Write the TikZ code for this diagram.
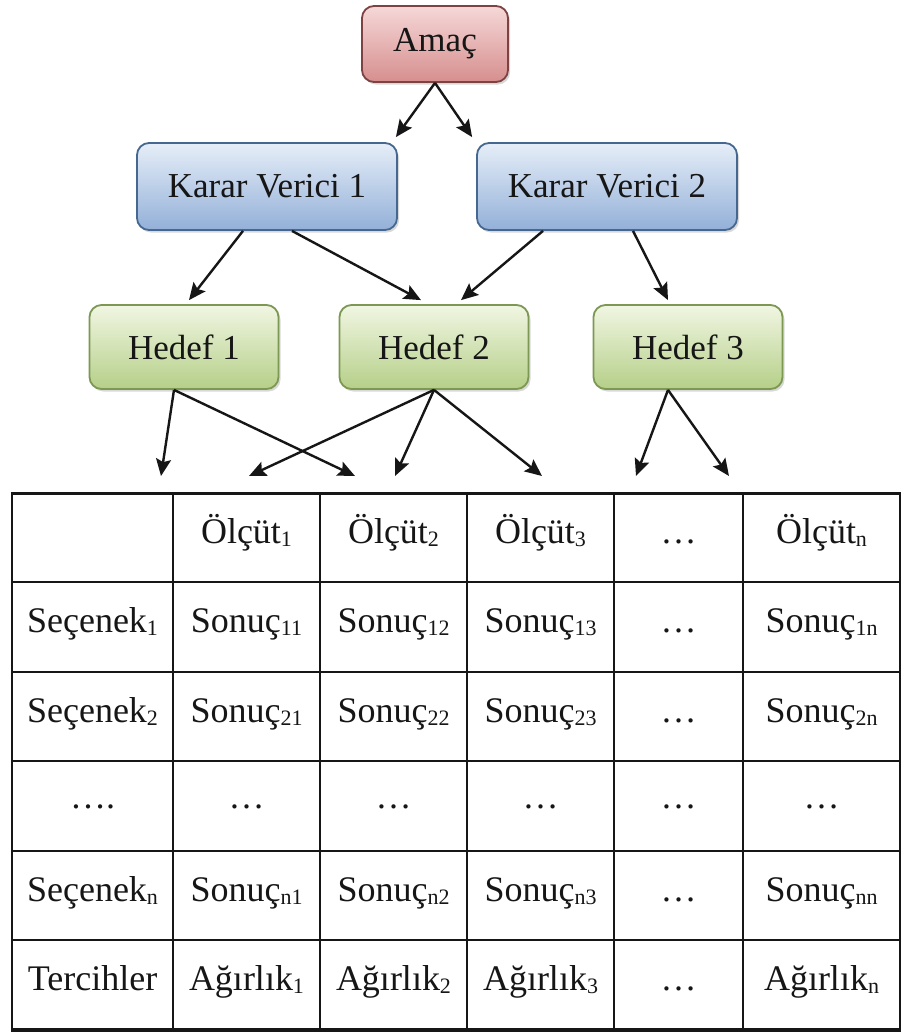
\documentclass[tikz,border=0pt]{standalone}
\usepackage{fontspec}
\setmainfont{Liberation Serif}
\usetikzlibrary{arrows.meta,shadows}
\definecolor{amactop}{HTML}{F6D8D8}
\definecolor{amacbot}{HTML}{D68E8E}
\definecolor{amacedge}{HTML}{7E4242}
\definecolor{kvtop}{HTML}{E6EEF8}
\definecolor{kvbot}{HTML}{93B0D8}
\definecolor{kvedge}{HTML}{46678F}
\definecolor{hdtop}{HTML}{F1F6E3}
\definecolor{hdbot}{HTML}{B5CF88}
\definecolor{hdedge}{HTML}{7C9852}
\definecolor{inkc}{HTML}{161616}
\newcommand{\tabrow}[8]{%
  \node[cell] (r#1c1) at (92.5,#2) {#3};
  \node[cell] (r#1c2) at (246.5,#2) {#4};
  \node[cell] (r#1c3) at (393.5,#2) {#5};
  \node[cell] (r#1c4) at (540.5,#2) {#6};
  \node[cell] (r#1c5) at (678.5,#2) {#7};
  \node[cell] (r#1c6) at (821.5,#2) {#8};
}
\newcommand{\sbs}[1]{\raisebox{-3pt}{\fontsize{22}{22}\selectfont #1}}
\begin{document}
\begin{tikzpicture}[x=1pt,y=-1pt,
  box/.style={rounded corners=12pt, line width=1.8pt, inner sep=0pt,
    text=inkc, font=\fontsize{35}{40}\selectfont,
    drop shadow={shadow xshift=2pt, shadow yshift=-2.5pt, opacity=0.3}},
  amacbox/.style={box, draw=amacedge, top color=amactop, bottom color=amacbot,
    minimum width=146pt, minimum height=76pt},
  kvbox/.style={box, draw=kvedge, top color=kvtop, bottom color=kvbot,
    minimum width=260pt, minimum height=87pt},
  hdbox/.style={box, draw=hdedge, top color=hdtop, bottom color=hdbot,
    minimum width=189pt, minimum height=84pt},
  arr/.style={line width=2.4pt, draw=inkc, -{Stealth[length=17pt,width=15pt,inset=3pt]}},
  grid/.style={line width=2.4pt, draw=inkc},
  cell/.style={anchor=base, inner sep=0pt, text=inkc, font=\fontsize{36}{40}\selectfont}]
\useasboundingbox (0,0) rectangle (903,1034);
\fill[white] (0,0) rectangle (903,1034);

% boxes
\node[amacbox] (amac) at (435,44) {Amaç};
\node[kvbox] (kv1) at (267,186.5) {Karar Verici 1};
\node[kvbox] (kv2) at (607,186.5) {Karar Verici 2};
\node[hdbox] (h1) at (184,347) {Hedef 1};
\node[hdbox] (h2) at (434,347) {Hedef 2};
\node[hdbox] (h3) at (688,347) {Hedef 3};

% arrows between boxes
\draw[arr] (amac.south) -- ([xshift=-2pt,yshift=5pt]kv1.north east);
\draw[arr] (amac.south) -- ([xshift=-4pt,yshift=5pt]kv2.north west);
\draw[arr] ([xshift=-24pt]kv1.south) -- ([xshift=5pt,yshift=4pt]h1.north);
\draw[arr] ([xshift=25pt]kv1.south) -- ([xshift=-13pt,yshift=4pt]h2.north);
\draw[arr] ([xshift=-64pt]kv2.south) -- ([xshift=27pt,yshift=4pt]h2.north);
\draw[arr] ([xshift=26pt]kv2.south) -- ([xshift=-20pt,yshift=4pt]h3.north);

% arrow ends above the table
\coordinate (e1) at (161,476);
\coordinate (e2) at (355,476);
\coordinate (e3) at (249,476);
\coordinate (e4) at (395,476);
\coordinate (e5) at (542,476);
\coordinate (e6) at (636,476);
\coordinate (e7) at (729,476);
\draw[arr] ([xshift=-10pt]h1.south) -- (e1);
\draw[arr] ([xshift=-10pt]h1.south) -- (e2);
\draw[arr] (h2.south) -- (e3);
\draw[arr] (h2.south) -- (e4);
\draw[arr] (h2.south) -- (e5);
\draw[arr] ([xshift=-20pt]h3.south) -- (e6);
\draw[arr] ([xshift=-20pt]h3.south) -- (e7);

% table grid
\draw[grid] (12,493) rectangle (900,1030);
\foreach \xx in {173,320,467,614,743} \draw[grid] (\xx,493) -- (\xx,1030);
\foreach \yy in {582,672,761,851,940} \draw[grid] (12,\yy) -- (900,\yy);
\draw[line width=3pt, draw=inkc] (10.8,493) -- (901.2,493);
\draw[line width=4.5pt, draw=inkc] (10.8,1030) -- (901.2,1030);

% table texts
\tabrow{0}{543}{}{Ölçüt\sbs{1}}{Ölçüt\sbs{2}}{Ölçüt\sbs{3}}{…}{Ölçüt\sbs{n}}
\tabrow{1}{632}{Seçenek\sbs{1}}{Sonuç\sbs{11}}{Sonuç\sbs{12}}{Sonuç\sbs{13}}{…}{Sonuç\sbs{1n}}
\tabrow{2}{722}{Seçenek\sbs{2}}{Sonuç\sbs{21}}{Sonuç\sbs{22}}{Sonuç\sbs{23}}{…}{Sonuç\sbs{2n}}
\tabrow{3}{808}{….}{…}{…}{…}{…}{…}
\tabrow{4}{901}{Seçenek\sbs{n}}{Sonuç\sbs{n1}}{Sonuç\sbs{n2}}{Sonuç\sbs{n3}}{…}{Sonuç\sbs{nn}}
\tabrow{5}{990}{Tercihler}{Ağırlık\sbs{1}}{Ağırlık\sbs{2}}{Ağırlık\sbs{3}}{…}{Ağırlık\sbs{n}}
\end{tikzpicture}
\end{document}
